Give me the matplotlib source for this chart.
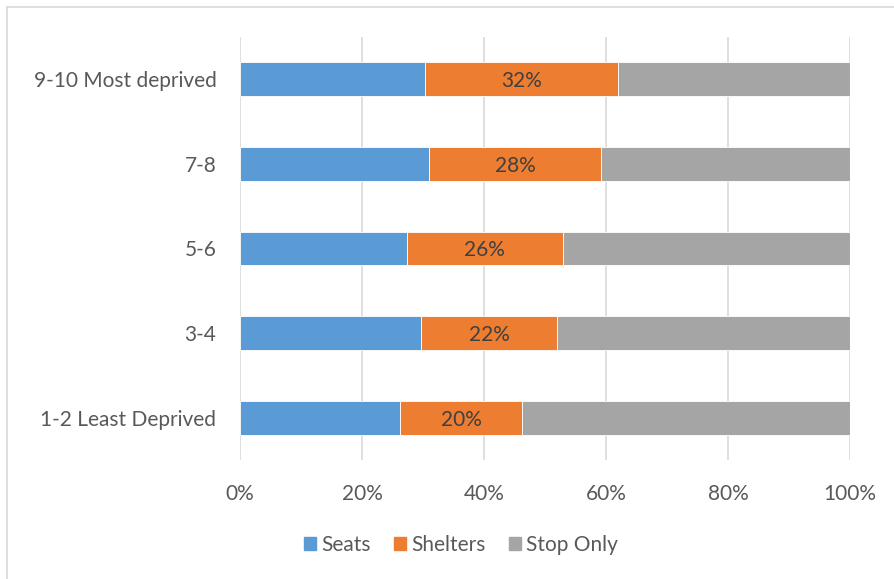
import matplotlib
matplotlib.use("Agg")
import matplotlib.pyplot as plt
from matplotlib.lines import Line2D
import numpy as np

categories = ["1-2 Least Deprived", "3-4", "5-6", "7-8", "9-10 Most deprived"]
seats = [26.3, 29.7, 27.3, 31.05, 30.3]
shelters = [19.9, 22.3, 25.7, 28.2, 31.6]
stop_only = [53.8, 48.0, 47.0, 40.75, 38.1]
shelter_labels = ["20%", "22%", "26%", "28%", "32%"]
xticks = [0, 20, 40, 60, 80, 100]
xtick_labels = ["0%", "20%", "40%", "60%", "80%", "100%"]

colors = ["#5b9bd5", "#ed7d31", "#a5a5a5"]
FONT = ["Lato", "DejaVu Sans"]
plt.rcParams['font.family'] = FONT
FS = 15

W, H = 894, 579
fig = plt.figure(figsize=(W/100, H/100), dpi=100)
ax = fig.add_axes([240/W, 1-460/H, 610/W, 423/H])

y = np.arange(len(categories))
s = np.array(seats); sh = np.array(shelters); so = np.array(stop_only)
h = 0.4
ax.barh(y, s, height=h, color=colors[0], edgecolor="white", linewidth=0.6, label="Seats", zorder=3)
ax.barh(y, sh, left=s, height=h, color=colors[1], edgecolor="white", linewidth=0.6, label="Shelters", zorder=3)
ax.barh(y, so, left=s+sh, height=h, color=colors[2], edgecolor="white", linewidth=0.6, label="Stop Only", zorder=3)
for i in range(len(categories)):
    ax.text(s[i] + sh[i]/2, y[i], shelter_labels[i], ha="center", va="center_baseline",
            fontsize=FS, color="#404040", zorder=4)

ax.set_xlim(0, 100)
ax.set_ylim(-0.5, len(categories)-0.5)
ax.set_xticks(xticks)
ax.set_xticklabels(xtick_labels)
ax.set_yticks(y)
ax.set_yticklabels(categories)
ax.tick_params(axis="both", length=0, labelsize=FS, colors="#595959")
ax.tick_params(axis="x", pad=17)
ax.tick_params(axis="y", pad=17)
for sp in ax.spines.values():
    sp.set_visible(False)
ax.grid(axis="x", color="#d9d9d9", linewidth=1.2, zorder=0)
ax.set_axisbelow(True)

handles = [plt.Rectangle((0, 0), 1, 1, color=c) for c in colors]
leg = fig.legend(handles, ["Seats", "Shelters", "Stop Only"], loc="center",
                 bbox_to_anchor=(461/W, 1-545/H), ncol=3, frameon=False,
                 fontsize=FS, handlelength=0.6, handleheight=0.6,
                 handletextpad=0.25, columnspacing=1.1, labelcolor="#595959")

# outer chart border (top and left visible)
fig.add_artist(Line2D([7/W, 1], [1-7/H, 1-7/H], transform=fig.transFigure, color="#d9d9d9", lw=1.2))
fig.add_artist(Line2D([7/W, 7/W], [0, 1-7/H], transform=fig.transFigure, color="#d9d9d9", lw=1.2))

fig.savefig("out.png", dpi=100, facecolor="white")
